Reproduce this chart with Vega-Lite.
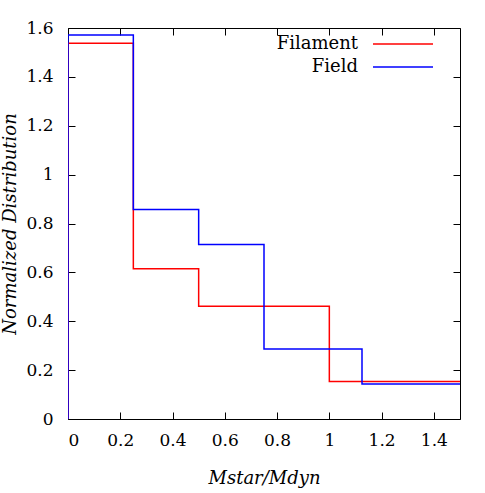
{
  "$schema": "https://vega.github.io/schema/vega-lite/v6.json",
  "autosize": "none",
  "padding": {"left": 68, "top": 28, "right": 25, "bottom": 74},
  "width": 392,
  "height": 391,
  "config": {
    "view": {"stroke": "#000000", "strokeWidth": 1},
    "font": "DejaVu Serif",
    "axis": {"grid": false, "domain": false, "tickColor": "#000000", "tickSize": -7, "labelFont": "DejaVu Serif", "labelFontSize": 17, "labelColor": "#000000", "titleFont": "DejaVu Serif", "titleFontSize": 18, "titleFontStyle": "italic", "titleFontWeight": "normal", "titleColor": "#000000", "format": "~g"},
    "legend": {"labelFont": "DejaVu Serif"}
  },
  "data": {"values": [
    {"series": "Filament", "x": 0, "y": 0},
    {"series": "Filament", "x": 0, "y": 1.538},
    {"series": "Filament", "x": 0.25, "y": 0.615},
    {"series": "Filament", "x": 0.5, "y": 0.4615},
    {"series": "Filament", "x": 1.0, "y": 0.1538},
    {"series": "Filament", "x": 1.5, "y": 0.1538},
    {"series": "Field", "x": 0, "y": 0},
    {"series": "Field", "x": 0, "y": 1.571},
    {"series": "Field", "x": 0.25, "y": 0.857},
    {"series": "Field", "x": 0.5, "y": 0.714},
    {"series": "Field", "x": 0.75, "y": 0.286},
    {"series": "Field", "x": 1.125, "y": 0.143},
    {"series": "Field", "x": 1.5, "y": 0.143}
  ]},
  "layer": [
    {
      "mark": {"type": "line", "interpolate": "step-after", "strokeWidth": 1.5, "clip": true},
      "encoding": {
        "x": {"field": "x", "type": "quantitative", "scale": {"domain": [0, 1.5], "nice": false, "zero": false},
              "axis": {"orient": "bottom", "values": [0, 0.2, 0.4, 0.6, 0.8, 1, 1.2, 1.4], "title": "Mstar/Mdyn", "labelPadding": 20, "titlePadding": 21, "format": "~g"}},
        "y": {"field": "y", "type": "quantitative", "scale": {"domain": [0, 1.6], "nice": false},
              "axis": {"orient": "left", "values": [0, 0.2, 0.4, 0.6, 0.8, 1, 1.2, 1.4, 1.6], "title": "Normalized Distribution", "labelPadding": 22, "titlePadding": 6, "format": "~g"}},
        "color": {"field": "series", "type": "nominal", "sort": ["Filament", "Field"],
                  "scale": {"domain": ["Filament", "Field"], "range": ["#ff0000", "#0000ff"]},
                  "legend": {"title": null, "orient": "none", "legendX": 324, "legendY": 5, "symbolType": "M-3,0H3", "symbolSize": 400, "symbolStrokeWidth": 1.5, "symbolFillColor": "transparent", "labelAlign": "right", "labelOffset": -56, "labelFontSize": 18, "labelColor": "#000000", "rowPadding": 3}},
        "order": {"field": "x"}
      }
    },
    {
      "mark": {"type": "point", "opacity": 0},
      "encoding": {
        "x": {"field": "x", "type": "quantitative", "axis": {"orient": "top", "values": [0, 0.2, 0.4, 0.6, 0.8, 1, 1.2, 1.4], "labels": false, "title": null}},
        "y": {"field": "y", "type": "quantitative", "axis": {"orient": "right", "values": [0, 0.2, 0.4, 0.6, 0.8, 1, 1.2, 1.4, 1.6], "labels": false, "title": null}}
      }
    }
  ],
  "resolve": {"axis": {"x": "independent", "y": "independent"}}
}
